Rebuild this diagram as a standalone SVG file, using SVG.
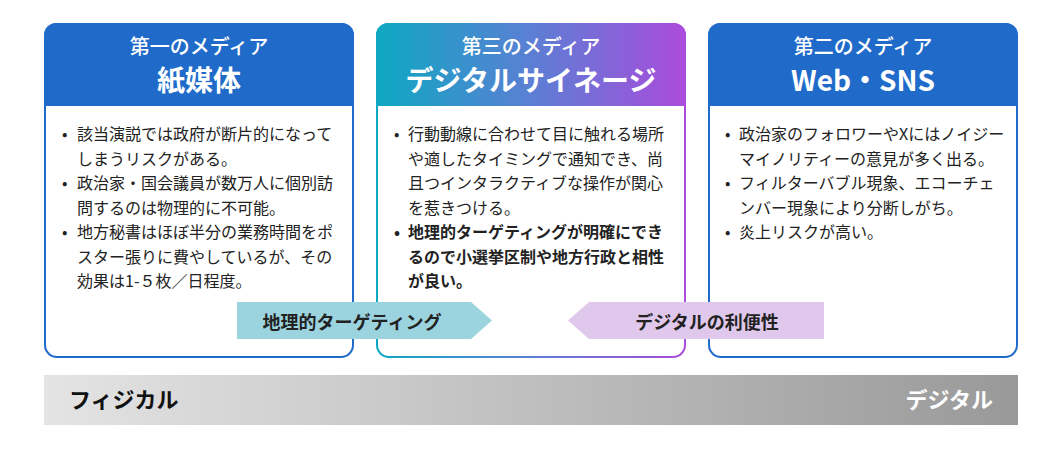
<svg xmlns="http://www.w3.org/2000/svg" width="1062" height="451" viewBox="0 0 1062 451">
<defs>
<linearGradient id="gMid" x1="377" y1="0" x2="685" y2="0" gradientUnits="userSpaceOnUse">
<stop offset="0" stop-color="#0ea8c2"/>
<stop offset="0.5" stop-color="#5b7fd4"/>
<stop offset="1" stop-color="#aa4cdc"/>
</linearGradient>
<linearGradient id="gBar" x1="0" y1="0" x2="1" y2="0">
<stop offset="0" stop-color="#e4e4e4"/>
<stop offset="1" stop-color="#999999"/>
</linearGradient>
<style>
text{font-family:"Noto Sans CJK JP","Noto Sans",sans-serif;}
.sub{font-size:20px;font-weight:500;fill:#fff;text-anchor:middle;}
.ttl{font-size:28px;font-weight:700;fill:#fff;text-anchor:middle;}
.b{font-size:16px;fill:#222;}
.bb{font-size:16px;fill:#222;font-weight:700;}
.arr{font-size:18px;font-weight:700;fill:#222;text-anchor:middle;}
.bar{font-size:22px;font-weight:700;}
</style>
</defs>

<g id="node-paper">
<rect x="45" y="24" width="308" height="333" rx="12" fill="#fff" stroke="#206bca" stroke-width="2"/>
<path d="M44,106 V35 a12,12 0 0 1 12,-12 H342 a12,12 0 0 1 12,12 V106 Z" fill="#206bca"/>
<text class="sub" x="199" y="54">第一のメディア</text>
<text class="ttl" x="199" y="91">紙媒体</text>
<text class="b" x="62" y="140">•</text>
<text class="b" x="77" y="140">該当演説では政府が断片的になって</text>
<text class="b" x="77" y="164.5">しまうリスクがある。</text>
<text class="b" x="62" y="189">•</text>
<text class="b" x="77" y="189">政治家・国会議員が数万人に個別訪</text>
<text class="b" x="77" y="213.5">問するのは物理的に不可能。</text>
<text class="b" x="62" y="238">•</text>
<text class="b" x="77" y="238">地方秘書はほぼ半分の業務時間をポ</text>
<text class="b" x="77" y="262.5">スター張りに費やしているが、その</text>
<text class="b" x="77" y="287">効果は1-５枚／日程度。</text>
</g>

<g id="node-signage">
<rect x="377" y="24" width="308" height="333" rx="12" fill="#fff" stroke="url(#gMid)" stroke-width="2"/>
<path d="M376,106 V35 a12,12 0 0 1 12,-12 H674 a12,12 0 0 1 12,12 V106 Z" fill="url(#gMid)"/>
<text class="sub" x="531" y="54">第三のメディア</text>
<text class="ttl" x="531" y="91">デジタルサイネージ</text>
<text class="b" x="394" y="140">•</text>
<text class="b" x="408" y="140">行動動線に合わせて目に触れる場所</text>
<text class="b" x="408" y="164.5">や適したタイミングで通知でき、尚</text>
<text class="b" x="408" y="189">且つインタラクティブな操作が関心</text>
<text class="b" x="408" y="213.5">を惹きつける。</text>
<text class="bb" x="394" y="238">•</text>
<text class="bb" x="408" y="238">地理的ターゲティングが明確にでき</text>
<text class="bb" x="408" y="262.5">るので小選挙区制や地方行政と相性</text>
<text class="bb" x="408" y="287">が良い。</text>
</g>

<g id="node-web">
<rect x="709" y="24" width="308" height="333" rx="12" fill="#fff" stroke="#206bca" stroke-width="2"/>
<path d="M708,106 V35 a12,12 0 0 1 12,-12 H1006 a12,12 0 0 1 12,12 V106 Z" fill="#206bca"/>
<text class="sub" x="863" y="54">第二のメディア</text>
<text class="ttl" x="863" y="91">Web・SNS</text>
<text class="b" x="725" y="140">•</text>
<text class="b" x="739" y="140">政治家のフォロワーやXにはノイジー</text>
<text class="b" x="739" y="164.5">マイノリティーの意見が多く出る。</text>
<text class="b" x="725" y="189">•</text>
<text class="b" x="739" y="189">フィルターバブル現象、エコーチェ</text>
<text class="b" x="739" y="213.5">ンバー現象により分断しがち。</text>
<text class="b" x="725" y="238">•</text>
<text class="b" x="739" y="238">炎上リスクが高い。</text>
</g>

<g id="connectors">
<g id="arrow-geo">
<path d="M237,302 H471 L492,320.5 L471,339 H237 Z" fill="#9bd3de"/>
<text class="arr" x="352" y="329">地理的ターゲティング</text>
</g>
<g id="arrow-digital">
<path d="M824,302 H589 L568,320.5 L589,339 H824 Z" fill="#e0c8ec"/>
<text class="arr" x="707" y="329">デジタルの利便性</text>
</g>
</g>

<g id="axis-bar">
<rect x="44" y="375" width="974" height="50" fill="url(#gBar)"/>
<text class="bar" x="69" y="408" fill="#111">フィジカル</text>
<text class="bar" x="993" y="408" fill="#fff" text-anchor="end">デジタル</text>
</g>
</svg>
